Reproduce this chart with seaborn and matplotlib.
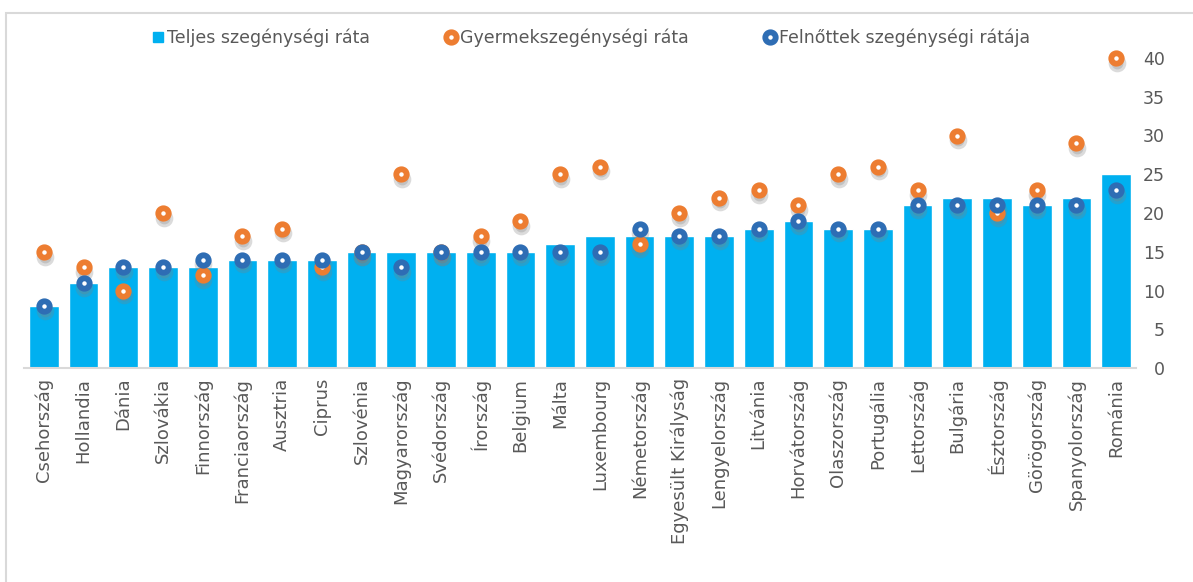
import matplotlib
matplotlib.use("Agg")
import matplotlib.pyplot as plt
import matplotlib.transforms as mtransforms
from matplotlib.lines import Line2D
from matplotlib.patches import Rectangle
import seaborn as sns
import pandas as pd

countries = ["Csehország", "Hollandia", "Dánia", "Szlovákia", "Finnország", "Franciaország",
             "Ausztria", "Ciprus", "Szlovénia", "Magyarország", "Svédország", "Írország",
             "Belgium", "Málta", "Luxembourg", "Németország", "Egyesült Királyság",
             "Lengyelország", "Litvánia", "Horvátország", "Olaszország", "Portugália",
             "Lettország", "Bulgária", "Észtország", "Görögország", "Spanyolország", "Románia"]
total_rate = [8, 11, 13, 13, 13, 14, 14, 14, 15, 15, 15, 15, 15, 16, 17, 17, 17, 17, 18, 19,
              18, 18, 21, 22, 22, 21, 22, 25]
child_rate = [15, 13, 10, 20, 12, 17, 18, 13, 15, 25, 15, 17, 19, 25, 26, 16, 20, 22, 23, 21,
              25, 26, 23, 30, 20, 23, 29, 40]
adult_rate = [8, 11, 13, 13, 14, 14, 14, 14, 15, 13, 15, 15, 15, 15, 15, 18, 17, 17, 18, 19,
              18, 18, 21, 21, 21, 21, 21, 23]
y_ticks = [0, 5, 10, 15, 20, 25, 30, 35, 40]
legend_labels = ["Teljes szegénységi ráta", "Gyermekszegénységi ráta", "Felnőttek szegénységi rátája"]

BAR = "#00B0F0"
ORANGE = "#ED7D31"
BLUE = "#2E6DB4"
TXT = "#595959"

df = pd.DataFrame({"country": countries, "total": total_rate,
                   "child": child_rate, "adult": adult_rate})

sns.set_style("white")
plt.rcParams["font.family"] = ["DejaVu Sans"]

fig = plt.figure(figsize=(11.93, 5.82), dpi=100)
ax = fig.add_axes([24 / 1193, 1 - 368 / 582, (1136 - 24) / 1193, (368 - 58) / 582])

sns.barplot(data=df, x="country", y="total", color=BAR, saturation=1, width=0.75, ax=ax)

MD = 7.5   # marker path diameter (pt)
ew = 4.2   # ring width (pt)

def rings(col, color):
    sns.scatterplot(data=df, x="country", y=col, s=(MD + 1) ** 2, marker="o",
                    color="#7F7F7F", alpha=0.28, linewidth=ew, edgecolor="#7F7F7F",
                    ax=ax, legend=False, zorder=3)
    coll = ax.collections[-1]
    coll.set_offset_transform(mtransforms.offset_copy(ax.transData, fig=fig, x=0.5, y=-3.5,
                                                      units="points"))
    coll.set_clip_on(False)
    sns.scatterplot(data=df, x="country", y=col, s=MD ** 2, marker="o",
                    color="white", edgecolor=color, linewidth=ew,
                    ax=ax, legend=False, zorder=4)
    ax.collections[-1].set_clip_on(False)

rings("child", ORANGE)
rings("adult", BLUE)

ax.set_xlim(-0.5, len(countries) - 0.5)
ax.set_ylim(0, 40)
ax.set_yticks(y_ticks)
ax.yaxis.tick_right()
ax.tick_params(axis="y", length=0, pad=21, labelsize=12.5, labelcolor=TXT)
for lab in ax.get_yticklabels():
    lab.set_horizontalalignment("right")
ax.tick_params(axis="x", length=0, pad=7, labelsize=13, labelcolor=TXT, rotation=90)
ax.set_xlabel("")
ax.set_ylabel("")
for s in ["left", "right", "top"]:
    ax.spines[s].set_visible(False)
ax.spines["bottom"].set_color("#D9D9D9")
ax.spines["bottom"].set_linewidth(1.5)

handles = [
    Line2D([], [], marker="s", linestyle="none", markersize=7, markerfacecolor=BAR, markeredgecolor=BAR),
    Line2D([], [], marker="o", linestyle="none", markersize=MD, markerfacecolor="white",
           markeredgecolor=ORANGE, markeredgewidth=ew),
    Line2D([], [], marker="o", linestyle="none", markersize=MD, markerfacecolor="white",
           markeredgecolor=BLUE, markeredgewidth=ew),
]
leg = fig.legend(handles, legend_labels, loc="center", bbox_to_anchor=(0.495, 0.935), ncol=3,
                 frameon=False, handletextpad=0.1, columnspacing=4.3, handlelength=0.8,
                 prop={"size": 12.5})
for t in leg.get_texts():
    t.set_color(TXT)

fig.patches.append(Rectangle((6 / 1193, -0.05), 1.2, 1 - 12.5 / 582 + 0.05,
                             transform=fig.transFigure, fill=False, edgecolor="#D9D9D9",
                             linewidth=1.5, zorder=0))

fig.savefig("out.png", dpi=100, facecolor="white")
